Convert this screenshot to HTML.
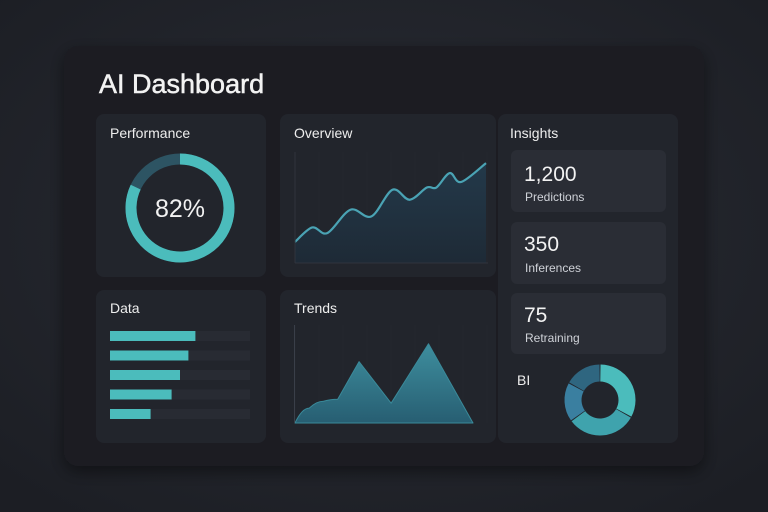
<!DOCTYPE html>
<html><head><meta charset="utf-8"><style>
html,body{margin:0;padding:0;width:768px;height:512px;overflow:hidden;background:#22252c;}
svg{display:block;font-family:"Liberation Sans",sans-serif;}
</style></head><body>
<svg width="768" height="512" viewBox="0 0 768 512">
<defs>
<radialGradient id="bg" cx="50%" cy="45%" r="70%"><stop offset="0" stop-color="#2a2d35"/><stop offset="1" stop-color="#1c1e24"/></radialGradient>
<linearGradient id="ov" x1="0" y1="0" x2="0" y2="1"><stop offset="0" stop-color="#23394a"/><stop offset="1" stop-color="#1e2a36"/></linearGradient>
<linearGradient id="tr" x1="0" y1="0" x2="0" y2="1"><stop offset="0" stop-color="#3e8e9e"/><stop offset="1" stop-color="#275e72"/></linearGradient>
<filter id="sh" x="-10%" y="-10%" width="120%" height="130%"><feDropShadow dx="0" dy="6" stdDeviation="8" flood-color="#000" flood-opacity="0.45"/></filter>
</defs>
<rect width="768" height="512" fill="url(#bg)"/>
<rect x="64" y="46" width="640" height="420" rx="14" fill="#1b1d23" filter="url(#sh)"/>
<text x="99" y="93" font-size="27" fill="#f2f2f2" stroke="#f2f2f2" stroke-width="0.5">AI Dashboard</text>

<rect x="96" y="114" width="170" height="163" rx="8" fill="#22252c"/>
<rect x="280" y="114" width="216" height="163" rx="8" fill="#22252c"/>
<rect x="498" y="114" width="180" height="329" rx="8" fill="#22252c"/>
<rect x="96" y="290" width="170" height="153" rx="8" fill="#22252c"/>
<rect x="280" y="290" width="216" height="153" rx="8" fill="#22252c"/>

<text x="110" y="138" font-size="14" fill="#eee">Performance</text>
<text x="294" y="138" font-size="14" fill="#eee">Overview</text>
<text x="510" y="138" font-size="14" fill="#eee">Insights</text>
<text x="110" y="313" font-size="14" fill="#eee">Data</text>
<text x="294" y="313" font-size="14" fill="#eee">Trends</text>

<rect x="511" y="150" width="155" height="62" rx="6" fill="#2a2d35"/>
<rect x="511" y="222" width="155" height="62" rx="6" fill="#2a2d35"/>
<rect x="511" y="293" width="155" height="61" rx="6" fill="#2a2d35"/>
<text x="524" y="181" font-size="21" fill="#f2f2f2">1,200</text>
<text x="525" y="201" font-size="12" fill="#cfd2d8">Predictions</text>
<text x="524" y="251" font-size="21" fill="#f2f2f2">350</text>
<text x="525" y="272" font-size="12" fill="#cfd2d8">Inferences</text>
<text x="524" y="322" font-size="21" fill="#f2f2f2">75</text>
<text x="525" y="342" font-size="12" fill="#cfd2d8">Retraining</text>
<text x="517" y="385" font-size="14" fill="#eee">BI</text>

<g id="perf"></g>
<text x="180" y="217" font-size="25" fill="#f2f2f2" text-anchor="middle">82%</text>
<g id="overview"></g>
<g id="bars"></g>
<g id="trends"></g>
<g id="bi"></g>
</svg>
<script>
const perfValue = 82;
const overviewValues = [19, 32, 27, 48, 42, 66, 57, 68, 68, 81, 73, 90];
const overviewX = [0, 9, 17, 29, 40, 51, 60, 69, 74, 81, 87, 100];
const dataValues = [61, 56, 50, 44, 29];
const trendValues = [0, 15, 22, 24, 62, 20, 80, 0];
const trendX = [0, 8, 16, 24, 36, 54, 75, 100];
const biValues = [33, 32, 18, 17];
const biColors = ['#4bbcbc', '#3fa3ad', '#3a7fa0', '#2f6680'];

const NS = 'http://www.w3.org/2000/svg';
function mk(tag, attrs, parent) { const e = document.createElementNS(NS, tag); for (const k in attrs) e.setAttribute(k, attrs[k]); parent.appendChild(e); return e; }
function arcPath(cx, cy, r, a0, a1) {
  const p = a => [cx + r * Math.sin(a), cy - r * Math.cos(a)];
  const [x0, y0] = p(a0), [x1, y1] = p(a1);
  return `M${x0},${y0} A${r},${r} 0 ${a1 - a0 > Math.PI ? 1 : 0} 1 ${x1},${y1}`;
}
function smooth(pts) {
  let d = `M${pts[0][0]},${pts[0][1]}`;
  for (let i = 0; i < pts.length - 1; i++) {
    const p0 = pts[i - 1] || pts[i], p1 = pts[i], p2 = pts[i + 1], p3 = pts[i + 2] || p2;
    d += ` C${p1[0] + (p2[0] - p0[0]) / 6},${p1[1] + (p2[1] - p0[1]) / 6} ${p2[0] - (p3[0] - p1[0]) / 6},${p2[1] - (p3[1] - p1[1]) / 6} ${p2[0]},${p2[1]}`;
  }
  return d;
}

// performance donut
const perf = document.getElementById('perf');
const bgc = mk('circle', {cx: 180, cy: 208, r: 49, fill: 'none', stroke: '#2d5463', 'stroke-width': 11}, perf);


const pa = mk('path', {d: arcPath(180, 208, 49, 0, 2 * Math.PI * perfValue / 100), fill: 'none', stroke: '#4bbcbc', 'stroke-width': 11}, perf);



// overview
const ov = document.getElementById('overview');
const oX = v => 295 + v / 100 * 191, oY = v => 263 - v / 100 * 111;
for (let i = 0; i <= 8; i++) { const g = mk('line', {x1: 295 + i * 24, y1: 152, x2: 295 + i * 24, y2: 263, stroke: '#24272e', 'stroke-width': 1}, ov);   }
const opts = overviewValues.map((v, i) => [oX(overviewX[i]), oY(v)]);
const line = smooth(opts);
const oa = mk('path', {d: line + ` L${oX(100)},263 L${oX(0)},263 Z`, fill: 'url(#ov)'}, ov);


const ol = mk('path', {d: line, fill: 'none', stroke: '#4aa3b4', 'stroke-width': 2.2}, ov);


const ax1 = mk('line', {x1: 295, y1: 152, x2: 295, y2: 263, stroke: '#30343d'}, ov);


const ax2 = mk('line', {x1: 295, y1: 263, x2: 488, y2: 263, stroke: '#30343d'}, ov);



// data bars
const bars = document.getElementById('bars');
dataValues.forEach((v, i) => {
  const y = 331 + i * 19.5;
  const t = mk('rect', {x: 110, y: y, width: 140, height: 10, fill: '#282b33'}, bars);
  
  
  const b = mk('rect', {x: 110, y: y, width: 140 * v / 100, height: 10, fill: '#4bbcbc'}, bars);
  
  
});

// trends
const tr = document.getElementById('trends');
const tX = v => 295 + v / 100 * 178, tY = v => 423 - v / 100 * 99;
for (let i = 0; i <= 8; i++) { const g = mk('line', {x1: 295 + i * 24, y1: 325, x2: 295 + i * 24, y2: 423, stroke: '#24272e'}, tr);   }
const tp = trendValues.map((v, i) => [tX(trendX[i]), tY(v)]);
let td = `M${tp[0][0]},${tp[0][1]}`;
for (let i = 1; i < tp.length; i++) {
  const [x, y] = tp[i], [px, py] = tp[i - 1];
  if (i <= 3) td += ` Q${px + (x - px) * 0.5},${y} ${x},${y}`;
  else td += ` L${x},${y}`;
}
const tarea = mk('path', {d: td + ' Z', fill: 'url(#tr)', stroke: '#3a8a9a', 'stroke-linejoin': 'round', 'stroke-width': 1}, tr);


const tax = mk('line', {x1: 294.5, y1: 325, x2: 294.5, y2: 423, stroke: '#3a3f49'}, tr);



// BI donut
const bi = document.getElementById('bi');
const tot = biValues.reduce((a, b) => a + b, 0);
let acc = 0;
biValues.forEach((v, i) => {
  const a0 = acc / tot * 2 * Math.PI, a1 = (acc + v) / tot * 2 * Math.PI;
  acc += v;
  const s = mk('path', {d: arcPath(600, 400, 27, a0 + 0.015, a1 - 0.015), fill: 'none', stroke: biColors[i], 'stroke-width': 17}, bi);
  
  
});
</script>
</body></html>
